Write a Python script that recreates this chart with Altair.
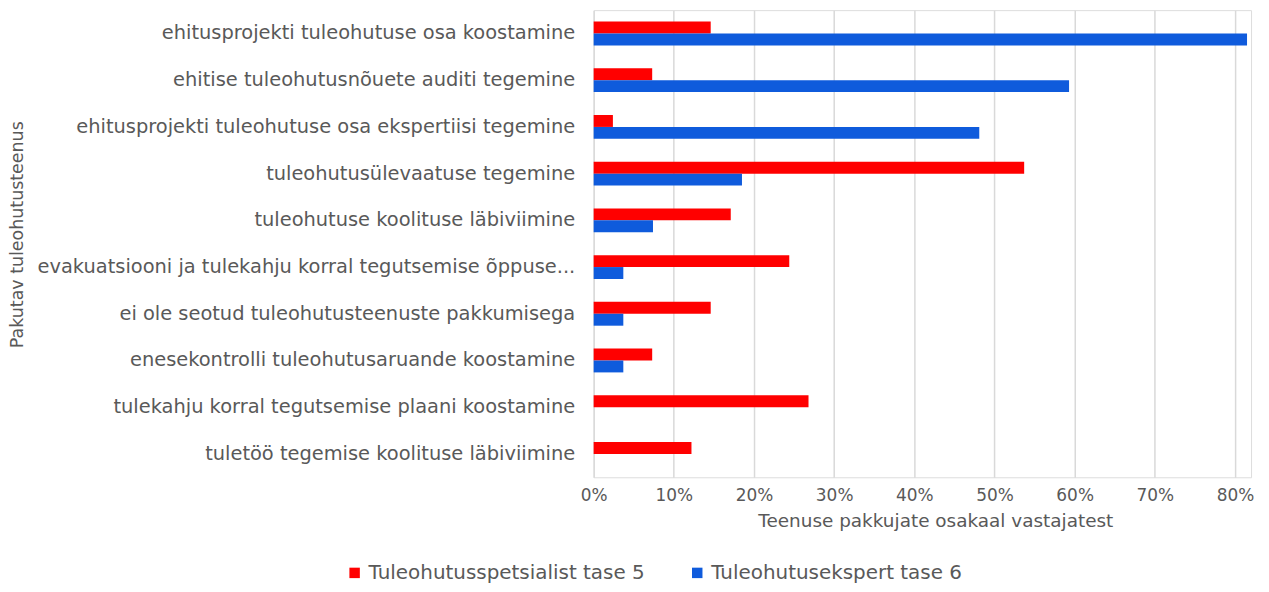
import altair as alt
import pandas as pd

categories = [
    "ehitusprojekti tuleohutuse osa koostamine",
    "ehitise tuleohutusnõuete auditi tegemine",
    "ehitusprojekti tuleohutuse osa ekspertiisi tegemine",
    "tuleohutusülevaatuse tegemine",
    "tuleohutuse koolituse läbiviimine",
    "evakuatsiooni ja tulekahju korral tegutsemise õppuse...",
    "ei ole seotud tuleohutusteenuste pakkumisega",
    "enesekontrolli tuleohutusaruande koostamine",
    "tulekahju korral tegutsemise plaani koostamine",
    "tuletöö tegemise koolituse läbiviimine",
]
series = ["Tuleohutusspetsialist tase 5", "Tuleohutusekspert tase 6"]
tase5 = [0.146, 0.073, 0.024, 0.537, 0.171, 0.244, 0.146, 0.073, 0.268, 0.122]
tase6 = [0.815, 0.593, 0.481, 0.185, 0.074, 0.037, 0.037, 0.037, 0.0, 0.0]
colors = ["#FF0000", "#0F5BDC"]

rows = []
for c, a, b in zip(categories, tase5, tase6):
    rows.append({"cat": c, "series": series[0], "value": a})
    rows.append({"cat": c, "series": series[1], "value": b})
df = pd.DataFrame(rows)

FONT = "DejaVu Sans"
TXT = "#595959"

chart = alt.Chart(df).mark_bar().encode(
    y=alt.Y("cat:N", sort=categories,
            scale=alt.Scale(paddingInner=0.49, paddingOuter=0.245),
            axis=alt.Axis(title="Pakutav tuleohutusteenus", labelFontSize=19.5,
                          titleFontSize=17.5, titleFontWeight="normal",
                          labelColor=TXT, titleColor=TXT, labelFont=FONT, titleFont=FONT,
                          ticks=False, domain=False, labelPadding=19,
                          titleX=-569, titleY=225, titleAngle=-90,
                          titleAlign="center", titleBaseline="bottom",
                          labelLimit=700)),
    yOffset=alt.YOffset("series:N", sort=series, scale=alt.Scale(domain=series)),
    x=alt.X("value:Q", scale=alt.Scale(domain=[0, 0.82], nice=False),
            axis=alt.Axis(title="Teenuse pakkujate osakaal vastajatest", format=".0%",
                          values=[0, 0.1, 0.2, 0.3, 0.4, 0.5, 0.6, 0.7, 0.8],
                          labelFontSize=17, titleFontSize=18.5, titleFontWeight="normal",
                          labelColor=TXT, titleColor=TXT, labelFont=FONT, titleFont=FONT,
                          ticks=False, domain=False, labelPadding=10, titlePadding=8,
                          labelFlush=False,
                          titleX=343, titleAlign="center",
                          grid=True, gridColor="#D9D9D9", gridWidth=1.5)),
    color=alt.Color("series:N", sort=series,
                    scale=alt.Scale(domain=series, range=colors),
                    legend=alt.Legend(title=None, orient="none", legendX=-250, legendY=555,
                                      direction="horizontal", columns=2,
                                      symbolType="square", symbolSize=110,
                                      labelFontSize=20, labelColor=TXT, labelFont=FONT,
                                      labelLimit=500,
                                      columnPadding=42, labelOffset=4,
                                      symbolStrokeWidth=0)),
).properties(
    width=660, height=469,
    autosize=alt.AutoSizeParams(type="none"),
    padding={"left": 588, "top": 1, "right": 10, "bottom": 106},
).configure_view(stroke=None).configure(font=FONT)

chart.save("out.html", embed_options={"renderer": "svg", "actions": False})
